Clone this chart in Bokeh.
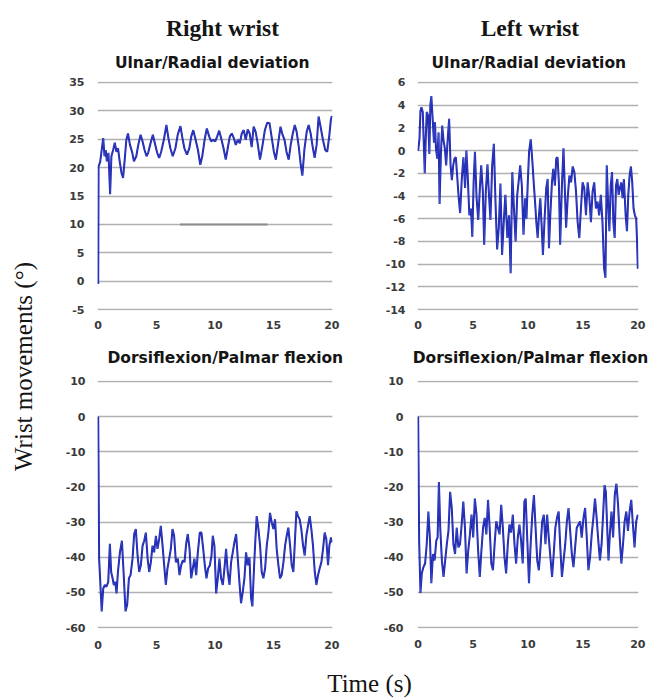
import math
from bokeh.plotting import figure
from bokeh.layouts import row, column
from bokeh.models import Range1d, FixedTicker, Label
from bokeh.embed import file_html
from bokeh.resources import INLINE

# ---------------- data (time s, angle deg) ----------------
right_ulnar = [
    (0.00, -0.5), (0.03, 20.2), (0.17, 21.0), (0.28, 22.8), (0.43, 25.2), (0.54, 22.0), (0.65, 23.1),
    (0.74, 21.1), (0.88, 22.6), (1.02, 15.3), (1.13, 22.0), (1.28, 23.1), (1.42, 24.4), (1.56, 22.8),
    (1.70, 23.4), (1.84, 21.1), (1.99, 19.1), (2.13, 18.2), (2.27, 21.4), (2.41, 24.9), (2.55, 26.0),
    (2.72, 24.0), (2.92, 22.6), (3.06, 21.1), (3.26, 22.0), (3.43, 24.0), (3.63, 25.8), (3.80, 24.6),
    (3.97, 23.1), (4.14, 22.0), (4.28, 22.6), (4.48, 24.3), (4.68, 25.8), (4.85, 24.3), (5.05, 22.6),
    (5.22, 21.7), (5.39, 22.8), (5.62, 24.9), (5.84, 27.5), (6.01, 25.2), (6.18, 23.4), (6.38, 22.0),
    (6.61, 23.4), (6.81, 25.8), (7.04, 27.3), (7.21, 25.2), (7.38, 23.4), (7.60, 22.3), (7.80, 23.4),
    (7.97, 25.5), (8.14, 26.6), (8.34, 24.9), (8.54, 23.1), (8.74, 20.5), (8.91, 22.0), (9.11, 24.9),
    (9.30, 26.9), (9.50, 25.5), (9.67, 24.6), (9.85, 24.9), (10.02, 24.6), (10.19, 25.5), (10.36, 26.5),
    (10.56, 24.9), (10.73, 23.4), (10.92, 21.4), (11.09, 23.4), (11.27, 25.5), (11.44, 26.0), (11.61, 25.2),
    (11.78, 24.0), (11.95, 24.9), (12.12, 24.3), (12.29, 26.0), (12.46, 26.6), (12.63, 24.9), (12.80, 26.7),
    (12.97, 26.0), (13.14, 23.6), (13.31, 27.2), (13.48, 26.3), (13.65, 24.3), (13.85, 21.4), (14.05, 23.7),
    (14.27, 26.6), (14.47, 27.9), (14.67, 27.8), (14.84, 25.5), (15.04, 22.8), (15.21, 21.4), (15.41, 24.3),
    (15.61, 27.2), (15.78, 25.8), (15.95, 24.9), (16.12, 22.8), (16.31, 21.4), (16.48, 24.0), (16.66, 26.0),
    (16.83, 27.5), (16.99, 26.3), (17.17, 23.7), (17.34, 20.5), (17.48, 18.6), (17.65, 23.1), (17.85, 26.3),
    (18.02, 27.5), (18.19, 26.0), (18.36, 23.7), (18.53, 21.7), (18.70, 24.0), (18.87, 29.0), (19.04, 27.2),
    (19.24, 24.9), (19.44, 23.1), (19.61, 22.8), (19.78, 25.5), (19.92, 28.4), (20.00, 29.1),
]

left_ulnar = [
    (0.00, 0.0), (0.12, 1.0), (0.21, 3.5), (0.30, 3.8), (0.42, 3.4), (0.51, 0.7), (0.60, -2.0), (0.69, 1.0),
    (0.78, 3.4), (0.90, 3.1), (1.02, -0.3), (1.11, 4.0), (1.20, 4.8), (1.32, 2.8), (1.44, 0.7), (1.53, 2.5),
    (1.62, 0.2), (1.74, -0.7), (1.86, 1.6), (1.95, -4.7), (2.07, -0.3), (2.19, 2.2), (2.31, 0.9), (2.43, 0.2),
    (2.55, -1.3), (2.67, 0.7), (2.82, 2.8), (2.95, -1.3), (3.07, -2.6), (3.19, -1.3), (3.31, -0.7), (3.43, -0.6),
    (3.55, -2.2), (3.67, -3.9), (3.82, -5.5), (3.97, -2.5), (4.12, -0.6), (4.27, -3.3), (4.39, 0.0), (4.51, -2.2),
    (4.66, -5.7), (4.81, -5.1), (4.93, -7.6), (5.05, -2.8), (5.17, -0.1), (5.32, -4.2), (5.47, -6.1), (5.62, -3.3),
    (5.74, -1.3), (5.89, -3.6), (6.01, -8.3), (6.16, -3.6), (6.31, -1.2), (6.43, -3.6), (6.58, -6.1), (6.74, -1.3),
    (6.89, 0.6), (7.04, -4.5), (7.19, -8.7), (7.34, -6.8), (7.49, -2.9), (7.64, -9.2), (7.79, -6.3), (7.94, -3.9),
    (8.12, -7.7), (8.27, -5.7), (8.42, -10.8), (8.57, -1.9), (8.72, -5.1), (8.87, -8.0), (9.02, -3.9), (9.14, -2.8),
    (9.29, -1.3), (9.44, -3.1), (9.59, -7.4), (9.74, -4.2), (9.86, -6.0), (9.98, -2.8), (10.10, -0.1), (10.25, 1.0),
    (10.40, -1.0), (10.52, -2.8), (10.64, -4.5), (10.76, -6.3), (10.88, -7.7), (11.00, -5.7), (11.12, -4.2),
    (11.24, -6.6), (11.36, -9.2), (11.51, -6.0), (11.66, -3.3), (11.79, -2.5), (11.91, -8.6), (12.03, -5.7),
    (12.18, -2.8), (12.30, -1.6), (12.45, -3.1), (12.57, -0.7), (12.69, -0.6), (12.81, -2.8), (12.93, -8.3),
    (13.08, -3.3), (13.23, 0.2), (13.35, -3.3), (13.47, -6.8), (13.62, -4.1), (13.77, -2.2), (13.92, -2.8),
    (14.07, -1.4), (14.22, -1.9), (14.37, -3.6), (14.52, -6.3), (14.67, -7.7), (14.82, -5.1), (14.97, -2.8),
    (15.12, -3.3), (15.28, -5.7), (15.43, -2.8), (15.58, -4.1), (15.73, -6.3), (15.88, -3.6), (16.03, -2.8),
    (16.18, -5.1), (16.33, -4.5), (16.48, -5.7), (16.63, -3.9), (16.78, -6.3), (16.93, -10.4), (17.05, -11.2),
    (17.17, -1.3), (17.29, -4.5), (17.41, -7.1), (17.53, -3.1), (17.65, -1.9), (17.77, -6.3), (17.89, -7.7),
    (18.01, -3.1), (18.13, -2.5), (18.25, -3.9), (18.37, -3.3), (18.49, -2.8), (18.61, -4.2), (18.73, -2.5),
    (18.89, -5.7), (19.01, -7.1), (19.13, -3.9), (19.25, -2.2), (19.37, -1.4), (19.49, -2.8), (19.61, -5.1),
    (19.73, -5.7), (19.85, -6.0), (19.93, -8.0), (20.00, -10.4),
]

right_flex = [
    (0.00, 0.0), (0.08, -40.4), (0.30, -55.4), (0.43, -48.9), (0.57, -47.9), (0.71, -48.4), (0.86, -47.0),
    (1.00, -36.2), (1.11, -44.2), (1.23, -46.0), (1.34, -47.9), (1.46, -47.0), (1.57, -50.3), (1.69, -44.2),
    (1.86, -38.6), (2.03, -35.3), (2.20, -46.0), (2.34, -55.4), (2.48, -53.5), (2.63, -46.0), (2.77, -45.1),
    (2.94, -40.4), (3.08, -33.4), (3.22, -32.0), (3.37, -39.5), (3.51, -44.2), (3.65, -42.3), (3.80, -36.7),
    (3.94, -35.3), (4.08, -33.0), (4.23, -40.4), (4.37, -44.2), (4.51, -41.4), (4.65, -36.7), (4.79, -38.6),
    (4.94, -33.9), (5.08, -37.6), (5.22, -34.8), (5.36, -31.1), (5.51, -36.7), (5.65, -42.3), (5.79, -47.9),
    (5.93, -43.2), (6.08, -40.4), (6.22, -37.6), (6.36, -32.0), (6.50, -33.9), (6.65, -41.4), (6.82, -40.4),
    (6.96, -45.1), (7.10, -42.3), (7.25, -40.9), (7.39, -41.4), (7.53, -36.2), (7.67, -33.4), (7.82, -37.6),
    (7.96, -46.0), (8.10, -43.2), (8.24, -40.4), (8.39, -45.1), (8.53, -38.6), (8.70, -33.0), (8.84, -33.0),
    (8.99, -37.6), (9.13, -42.3), (9.27, -46.0), (9.41, -43.2), (9.56, -42.3), (9.70, -39.5), (9.81, -33.9),
    (9.95, -36.7), (10.10, -50.3), (10.24, -46.0), (10.38, -40.4), (10.52, -46.0), (10.67, -47.9), (10.81, -43.2),
    (10.95, -37.6), (11.09, -44.2), (11.24, -47.9), (11.38, -41.4), (11.52, -38.6), (11.66, -35.8), (11.81, -33.4),
    (11.95, -40.4), (12.09, -47.0), (12.23, -53.1), (12.38, -49.8), (12.52, -46.0), (12.66, -38.6), (12.80, -42.3),
    (12.95, -40.0), (13.09, -51.7), (13.20, -54.0), (13.35, -42.3), (13.46, -34.8), (13.57, -28.3), (13.72, -32.0),
    (13.86, -36.7), (14.00, -44.2), (14.14, -46.0), (14.29, -43.2), (14.43, -36.7), (14.57, -33.0), (14.71, -27.4),
    (14.86, -30.2), (15.00, -32.0), (15.14, -29.2), (15.28, -37.6), (15.43, -42.3), (15.57, -46.0), (15.71, -45.1),
    (15.86, -41.4), (16.00, -36.7), (16.14, -33.9), (16.28, -31.6), (16.43, -36.7), (16.57, -42.3), (16.71, -44.2),
    (16.85, -34.8), (16.97, -26.9), (17.11, -28.3), (17.25, -29.2), (17.39, -32.0), (17.54, -36.7), (17.68, -39.5),
    (17.82, -33.9), (17.96, -31.1), (18.11, -28.3), (18.25, -32.0), (18.39, -36.7), (18.54, -44.2), (18.68, -47.9),
    (18.82, -45.1), (18.96, -43.2), (19.11, -41.4), (19.25, -37.6), (19.39, -33.0), (19.53, -34.8), (19.68, -42.3),
    (19.79, -36.7), (19.93, -34.4), (20.00, -35.8),
]

left_flex = [
    (0.00, 0.0), (0.09, -35.3), (0.21, -50.2), (0.33, -44.6), (0.48, -42.8), (0.63, -41.8), (0.78, -36.3),
    (0.93, -27.0), (1.08, -35.3), (1.20, -47.4), (1.35, -39.1), (1.50, -40.9), (1.65, -35.3), (1.77, -34.4),
    (1.89, -18.6), (2.01, -31.6), (2.16, -40.9), (2.31, -45.6), (2.46, -40.9), (2.61, -36.3), (2.76, -32.5),
    (2.91, -21.4), (3.06, -26.0), (3.21, -36.3), (3.36, -39.1), (3.51, -31.6), (3.66, -37.2), (3.81, -36.3),
    (3.96, -30.7), (4.11, -24.2), (4.26, -31.6), (4.41, -44.6), (4.56, -38.1), (4.71, -33.5), (4.86, -27.9),
    (5.01, -34.4), (5.16, -23.3), (5.31, -27.9), (5.46, -38.1), (5.61, -45.6), (5.76, -38.1), (5.91, -31.6),
    (6.06, -28.8), (6.21, -33.5), (6.36, -23.7), (6.51, -31.6), (6.66, -41.8), (6.81, -43.7), (6.96, -36.3),
    (7.11, -29.8), (7.26, -31.6), (7.41, -33.5), (7.56, -25.1), (7.71, -31.6), (7.86, -40.0), (8.01, -44.6),
    (8.16, -36.3), (8.31, -30.7), (8.46, -33.0), (8.62, -27.9), (8.77, -36.3), (8.92, -41.8), (9.07, -34.4),
    (9.22, -30.7), (9.37, -35.3), (9.52, -41.8), (9.67, -24.2), (9.79, -23.3), (9.94, -35.3), (10.09, -47.4),
    (10.24, -36.3), (10.39, -27.9), (10.54, -22.3), (10.69, -31.6), (10.84, -40.9), (10.99, -43.7), (11.14, -37.2),
    (11.29, -29.8), (11.44, -27.9), (11.59, -36.3), (11.74, -27.9), (11.89, -34.4), (12.04, -40.0), (12.19, -45.6),
    (12.34, -39.1), (12.49, -31.6), (12.64, -28.8), (12.79, -27.0), (12.94, -37.2), (13.09, -45.6), (13.24, -40.9),
    (13.39, -36.3), (13.54, -29.8), (13.69, -26.0), (13.84, -32.5), (13.99, -39.1), (14.14, -42.8), (14.29, -37.2),
    (14.44, -31.6), (14.59, -30.7), (14.74, -29.8), (14.89, -34.4), (15.05, -28.8), (15.20, -26.0), (15.35, -34.4),
    (15.50, -43.7), (15.65, -40.0), (15.80, -33.5), (15.95, -28.8), (16.10, -23.3), (16.25, -28.8), (16.40, -35.3),
    (16.55, -40.9), (16.70, -36.3), (16.85, -27.0), (16.97, -19.5), (17.09, -21.4), (17.21, -31.6), (17.33, -40.9),
    (17.45, -33.5), (17.60, -27.0), (17.75, -34.4), (17.90, -22.3), (18.05, -19.1), (18.20, -25.1), (18.35, -34.4),
    (18.50, -41.8), (18.65, -36.3), (18.80, -29.8), (18.95, -27.0), (19.10, -32.5), (19.25, -27.0), (19.40, -23.7),
    (19.55, -30.7), (19.70, -37.2), (19.85, -29.8), (20.00, -27.9),
]

# darker grey piece of the 10 gridline in the right-wrist ulnar panel
grid_mark_x = [7.0, 14.5]
grid_mark_y = [10, 10]

x_ticks = [0, 5, 10, 15, 20]
x_tick_labels = ["0", "5", "10", "15", "20"]
ulnar_r_ticks = [-5, 0, 5, 10, 15, 20, 25, 30, 35]
ulnar_l_ticks = [-14, -12, -10, -8, -6, -4, -2, 0, 2, 4, 6]
flex_ticks = [-60, -50, -40, -30, -20, -10, 0, 10]

col_titles = ["Right wrist", "Left wrist"]
sub_titles = ["Ulnar/Radial deviation", "Dorsiflexion/Palmar flexion"]
y_title = "Wrist movements (\u00b0)"
x_title = "Time (s)"

LINE = "#1c1cab"
HILITE = "#5fa6ff"
GRID = "#b0b0b0"
TICK = "#3a3a3a"
INK = "#151515"
SANS = "DejaVu Sans"
SERIF = "Liberation Serif"


def panel(data, yticks, width, height, bl, br, bt, bb, ystand, xstand):
    lo, hi = yticks[0], yticks[-1]
    pad = (hi - lo) * 0.004
    p = figure(width=width, height=height, output_backend="svg", toolbar_location=None, title=None,
               x_range=Range1d(-0.06, 20.06), y_range=Range1d(lo - pad, hi + pad),
               min_border_left=bl, min_border_right=br, min_border_top=bt, min_border_bottom=bb)
    p.outline_line_color = None
    p.background_fill_color = "white"
    p.border_fill_color = "white"
    p.xgrid.visible = False
    p.ygrid.grid_line_color = GRID
    p.ygrid.grid_line_width = 1.6
    p.xaxis.ticker = FixedTicker(ticks=x_ticks)
    p.yaxis.ticker = FixedTicker(ticks=yticks)
    p.xaxis.major_label_overrides = {t: s for t, s in zip(x_ticks, x_tick_labels)}
    p.yaxis.major_label_overrides = {t: str(t) for t in yticks}
    for ax in (p.xaxis, p.yaxis):
        ax.axis_line_color = None
        ax.major_tick_line_color = None
        ax.minor_tick_line_color = None
        ax.major_tick_out = 0
        ax.major_tick_in = 0
        ax.major_label_text_font = SANS
        ax.major_label_text_font_style = "bold"
        ax.major_label_text_font_size = "11px"
        ax.major_label_text_color = TICK
    p.yaxis.major_label_standoff = ystand
    p.xaxis.major_label_standoff = xstand
    xs = [d[0] for d in data]
    ys = [d[1] for d in data]
    p.line(xs, ys, line_color=LINE, line_width=2.0)
    p.line(xs, ys, line_color=HILITE, line_width=0.5, line_alpha=0.5)
    return p


def blank(width, height):
    p = figure(width=width, height=height, output_backend="svg", toolbar_location=None, title=None,
               x_range=Range1d(0, width), y_range=Range1d(0, height),
               min_border=0, min_border_left=0, min_border_right=0, min_border_top=0, min_border_bottom=0)
    p.axis.visible = False
    p.grid.visible = False
    p.outline_line_color = None
    p.border_fill_color = "white"
    p.background_fill_color = "white"
    return p


def add_text(p, x, y, text, font, size, style="bold", baseline="alphabetic", angle=0.0):
    p.add_layout(Label(x=x, y=y, text=text, text_font=font, text_font_size=size,
                       text_font_style=style, text_align="center", text_baseline=baseline,
                       angle=angle, angle_units="rad", text_color=INK))


# header above the top row (x from page 53)
head1 = blank(598, 73)
add_text(head1, 169, 45.5, col_titles[0], SERIF, "23.5px")
add_text(head1, 476.4, 45.5, col_titles[1], SERIF, "23.5px")
add_text(head1, 158.7, 10.5, sub_titles[0], SANS, "15.5px", baseline="middle")
add_text(head1, 475.3, 10.5, sub_titles[0], SANS, "15.5px", baseline="middle")

tl = panel(right_ulnar, ulnar_r_ticks, 299, 267, 44, 20, 8, 30, 13, 10)
tl.line(grid_mark_x, grid_mark_y, line_color="#8c8c8c", line_width=2)
tr = panel(left_ulnar, ulnar_l_ticks, 299, 267, 65, 13, 8, 30, 12, 10)

head2 = blank(598, 28)
add_text(head2, 171.8, 10.5, sub_titles[1], SANS, "15.5px", baseline="middle")
add_text(head2, 477, 10.5, sub_titles[1], SANS, "15.5px", baseline="middle")

bl = panel(right_flex, flex_ticks, 299, 302, 44, 20, 12, 40, 12, 12)
br = panel(left_flex, flex_ticks, 299, 302, 65, 13, 9, 42, 14, 11)

ylab = blank(53, 670)
add_text(ylab, 23, 304, y_title, SERIF, "25px", style="normal", baseline="middle", angle=math.pi / 2)

foot = blank(651, 29)
add_text(foot, 369, 16.5, x_title, SERIF, "25px", style="normal", baseline="middle")

right_block = column(head1, row(tl, tr, spacing=0), head2, row(bl, br, spacing=0), spacing=0)
layout = column(row(ylab, right_block, spacing=0), foot, spacing=0)

open("out.html", "w").write(file_html(layout, INLINE))
